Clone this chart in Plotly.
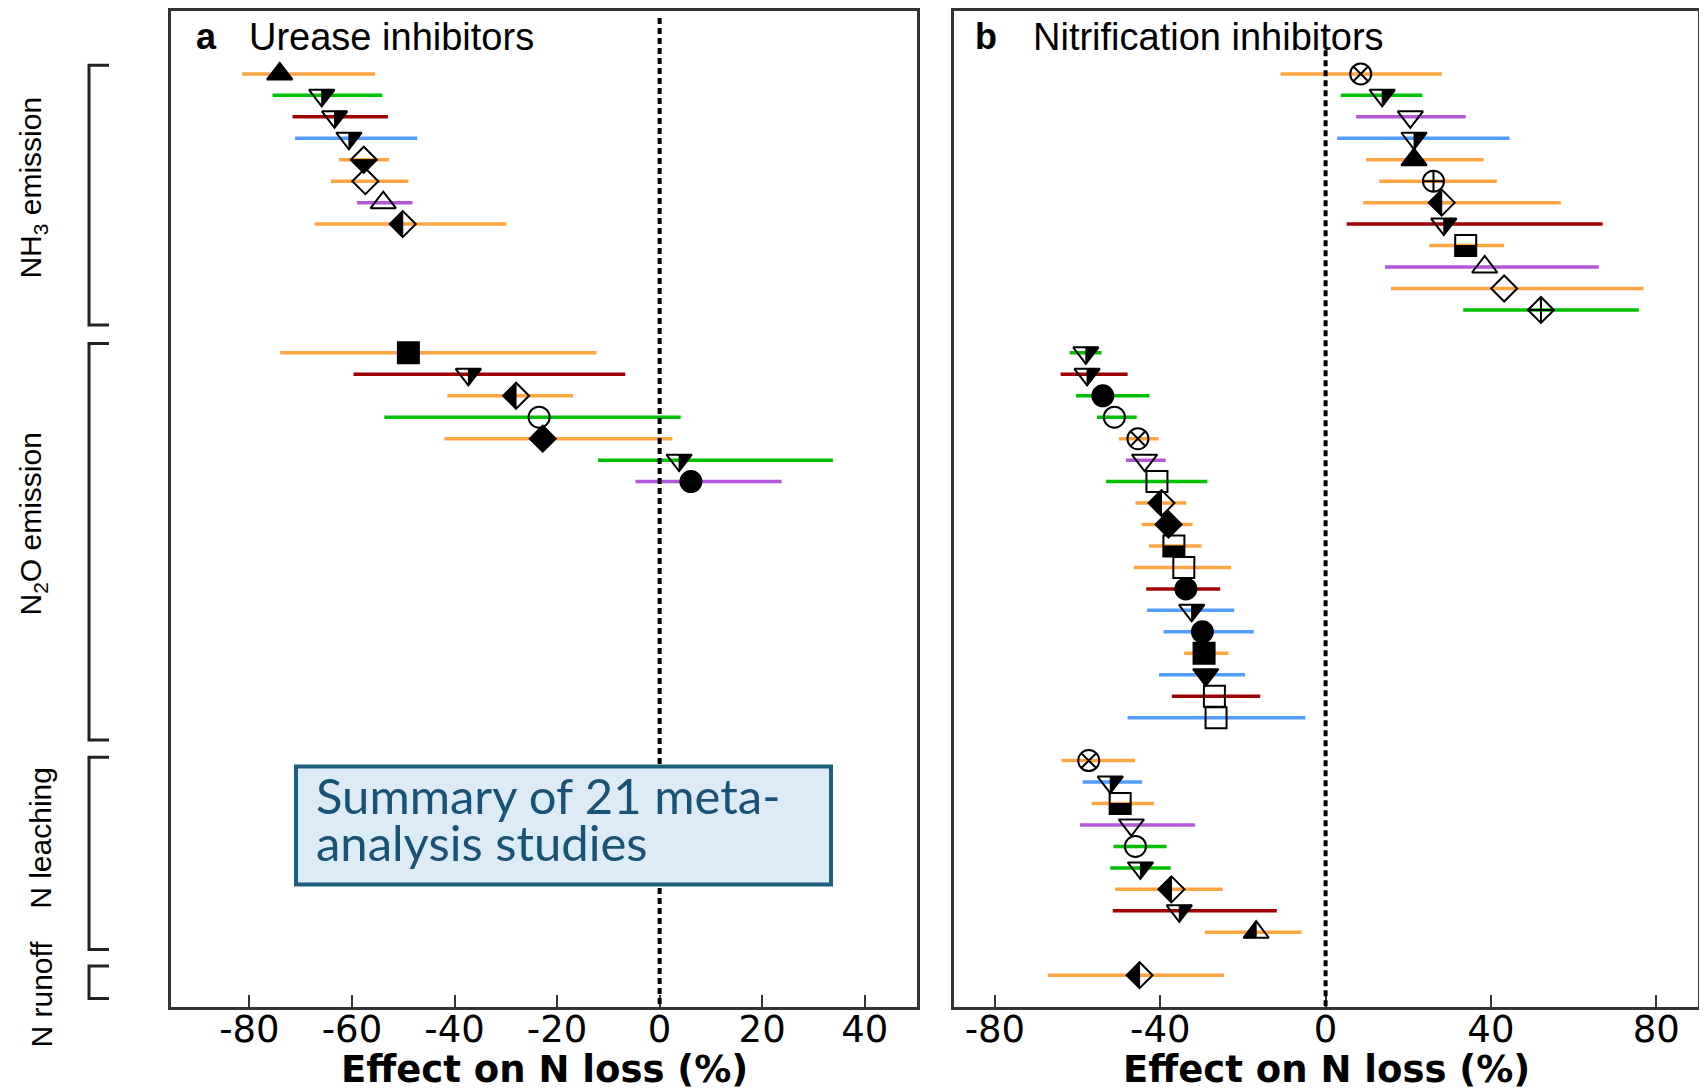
import math
import plotly.graph_objects as go

# ---------------- data ----------------
# Panel a: urease inhibitors (row index from top)
a_rows = [0, 1, 2, 3, 4, 5, 6, 7, 13, 14, 15, 16, 17, 18, 19]
a_mean = [-74.1, -65.9, -63.4, -60.6, -57.7, -57.4, -53.9, -50.1, -49.0, -37.3, -28.0, -23.5, -22.8, 3.8, 6.1]
a_lo = [-81.4, -75.5, -71.6, -71.1, -62.5, -64.1, -59.0, -67.3, -74.0, -59.7, -41.4, -53.7, -42.0, -12.0, -4.7]
a_hi = [-55.5, -54.1, -53.0, -47.3, -52.8, -49.0, -48.2, -29.9, -12.3, -6.7, -16.9, 4.1, 2.5, 33.8, 23.8]
a_color = ['orange', 'green', 'darkred', 'blue', 'orange', 'orange', 'purple', 'orange',
           'orange', 'darkred', 'orange', 'green', 'orange', 'green', 'purple']
a_marker = ['tri_up_filled', 'tri_down_half', 'tri_down_half', 'tri_down_half', 'diamond_bottom_half',
            'diamond_open', 'tri_up_open', 'diamond_left_half',
            'square_filled', 'tri_down_half', 'diamond_left_half', 'circle_open', 'diamond_filled',
            'tri_down_half', 'circle_filled']

# Panel b: nitrification inhibitors
b_rows = list(range(0, 12)) + list(range(13, 31)) + list(range(32, 41)) + [42]
b_mean = [8.5, 13.7, 20.5, 21.4, 21.4, 26.1, 28.1, 28.6, 33.9, 38.5, 43.2, 52.1,
          -58.0, -57.7, -53.9, -51.1, -45.4, -43.8, -40.8, -39.7, -38.0, -36.7, -34.3, -33.8,
          -32.4, -29.8, -29.4, -29.0, -26.9, -26.5,
          -57.3, -52.1, -49.7, -47.0, -46.0, -44.8, -37.3, -35.4, -16.8,
          -45.0]
b_lo = [-10.9, 3.7, 7.4, 2.8, 9.8, 13.0, 9.1, 5.1, 25.1, 14.4, 15.8, 33.3,
        -61.9, -64.1, -60.4, -55.3, -50.0, -48.3, -53.1, -46.0, -44.5, -42.7, -46.4, -43.4,
        -43.2, -39.2, -34.2, -40.3, -37.2, -47.9,
        -63.9, -58.8, -56.6, -59.4, -51.3, -52.1, -50.9, -51.5, -29.2,
        -67.2]
b_hi = [28.1, 23.4, 33.9, 44.5, 38.2, 41.4, 56.9, 67.0, 43.2, 66.1, 76.9, 75.8,
        -54.2, -47.9, -42.6, -45.7, -40.4, -38.7, -28.6, -33.7, -32.2, -30.0, -22.9, -25.5,
        -22.1, -17.4, -23.5, -19.5, -15.8, -4.9,
        -46.1, -44.4, -41.5, -31.6, -38.5, -37.5, -24.9, -11.8, -5.8,
        -24.6]
b_color = ['orange', 'green', 'purple', 'blue', 'orange', 'orange', 'orange', 'darkred', 'orange', 'purple', 'orange', 'green',
           'green', 'darkred', 'green', 'green', 'orange', 'purple', 'green', 'orange', 'orange', 'orange', 'orange', 'darkred',
           'blue', 'blue', 'orange', 'blue', 'darkred', 'blue',
           'orange', 'blue', 'orange', 'purple', 'green', 'green', 'orange', 'darkred', 'orange',
           'orange']
b_marker = ['circle_x', 'tri_down_half', 'tri_down_open', 'tri_down_half', 'tri_up_filled', 'circle_plus',
            'diamond_left_half', 'tri_down_half', 'square_bottom_half', 'tri_up_open', 'diamond_open', 'diamond_plus',
            'tri_down_half', 'tri_down_half', 'circle_filled', 'circle_open', 'circle_x', 'tri_down_open',
            'square_open', 'diamond_left_half', 'diamond_filled', 'square_bottom_half', 'square_open', 'circle_filled',
            'tri_down_half', 'circle_filled', 'square_filled', 'tri_down_filled', 'square_open', 'square_open',
            'circle_x', 'tri_down_half', 'square_bottom_half', 'tri_down_open', 'circle_open', 'tri_down_half',
            'diamond_left_half', 'tri_down_half', 'tri_up_left_half',
            'diamond_left_half']

a_ticks = [-80, -60, -40, -20, 0, 20, 40]
b_ticks = [-80, -40, 0, 40, 80]

groups = ['NH<sub>3</sub> emission', 'N<sub>2</sub>O emission', 'N leaching', 'N runoff']
group_span = [(-0.4, 11.7), (12.56, 31.04), (31.85, 40.8), (41.57, 43.09)]
group_label_row = [5.3, 21.0, 35.6, 42.9]

# ---------------- styling ----------------
COLORS = {'orange': '#FFA53F', 'green': '#00C000', 'darkred': '#A00000',
          'blue': '#4F9DFF', 'purple': '#B455DA'}
TRI, DIA, SQ, CIR = 22, 20, 21, 21
SYM = {
    'tri_up_filled': ('triangle-up', TRI), 'tri_up_open': ('triangle-up-open', TRI),
    'tri_up_left_half': ('triangle-up-open', TRI),
    'tri_down_half': ('triangle-down-open', TRI), 'tri_down_open': ('triangle-down-open', TRI),
    'tri_down_filled': ('triangle-down', TRI),
    'diamond_open': ('diamond-open', DIA), 'diamond_filled': ('diamond', DIA),
    'diamond_left_half': ('diamond-open', DIA), 'diamond_bottom_half': ('diamond-open', DIA),
    'diamond_plus': ('diamond-cross-open', DIA),
    'square_filled': ('square', SQ), 'square_open': ('square-open', SQ),
    'square_bottom_half': ('square-open', SQ),
    'circle_filled': ('circle', CIR), 'circle_open': ('circle-open', CIR),
    'circle_x': ('circle-x-open', CIR), 'circle_plus': ('circle-cross-open', CIR),
}

# page body has an 8px margin: figure is laid out in page pixels minus that offset
OFF = 8
W, H = 1707 - OFF, 1092 - OFF
ARIAL = "Liberation Sans, Arial, sans-serif"
DEJAVU = "DejaVu Sans, Verdana, sans-serif"


def px(x):
    return (x - OFF) / W


def py(y):
    return 1 - (y - OFF) / H


def half_path(kind, size):
    r = size / 2.0
    rt = r * 2 / math.sqrt(3)
    rd = r * 1.3
    if kind == 'tri_down_half':
        pts = [(0, r / 2), (rt, r / 2), (0, -r)]
    elif kind == 'tri_up_left_half':
        pts = [(-rt, -r / 2), (0, -r / 2), (0, r)]
    elif kind == 'diamond_left_half':
        pts = [(-rd, 0), (0, rd), (0, -rd)]
    elif kind == 'diamond_bottom_half':
        pts = [(-rd, 0), (rd, 0), (0, -rd)]
    elif kind == 'square_bottom_half':
        pts = [(-r, 0), (r, 0), (r, -r), (-r, -r)]
    else:
        return None
    return 'M ' + ' L '.join(f'{x:.2f},{y:.2f}' for x, y in pts) + ' Z'


fig = go.Figure()
shapes = []


def add_panel(rows, mean, lo, hi, colors, markers, xref, yref):
    # CI bars grouped by colour
    for cname in COLORS:
        xs, ys = [], []
        for r, l, h, c in zip(rows, lo, hi, colors):
            if c == cname:
                xs += [l, h, None]
                ys += [r, r, None]
        if xs:
            fig.add_trace(go.Scatter(x=xs, y=ys, mode='lines', xaxis=xref, yaxis=yref,
                                     line=dict(color=COLORS[cname], width=3.5),
                                     hoverinfo='skip', showlegend=False))
    fig.add_trace(go.Scatter(
        x=mean, y=rows, mode='markers', xaxis=xref, yaxis=yref, showlegend=False,
        marker=dict(symbol=[SYM[m][0] for m in markers], size=[SYM[m][1] for m in markers],
                    color='black', opacity=1, line=dict(color='black', width=2))))
    for r, m, mk in zip(rows, mean, markers):
        p = half_path(mk, SYM[mk][1])
        if p:
            shapes.append(dict(type='path', xref=xref, yref=yref, xsizemode='pixel', ysizemode='pixel',
                               xanchor=m, yanchor=r, path=p, fillcolor='black',
                               line=dict(color='black', width=1), layer='above'))


add_panel(a_rows, a_mean, a_lo, a_hi, a_color, a_marker, 'x', 'y')
add_panel(b_rows, b_mean, b_lo, b_hi, b_color, b_marker, 'x2', 'y2')

YR = [43.49, -2.93]
# zero reference lines
shapes.append(dict(type='line', xref='x', yref='y', x0=0, x1=0, y0=-2.6, y1=YR[0],
                   line=dict(color='black', width=4, dash='6px,4px')))
shapes.append(dict(type='line', xref='x2', yref='y2', x0=0, x1=0, y0=-1.1, y1=YR[0],
                   line=dict(color='black', width=4, dash='6px,4px')))

# group brackets on the left
bx0, bx1 = px(89), px(109)
for (y0, y1) in group_span:
    shapes.append(dict(type='path', xref='paper', yref='y',
                       path=f'M {bx1},{y0} L {bx0},{y0} L {bx0},{y1} L {bx1},{y1}',
                       line=dict(color='#222222', width=3)))

# summary box
shapes.append(dict(type='rect', xref='paper', yref='paper', x0=px(296), x1=px(831),
                   y0=py(884), y1=py(766), fillcolor='#DDEBF7',
                   line=dict(color='#1B5E7E', width=4), layer='above'))

annotations = []
label_x = [33, 33, 41, 41]
for g, ry, lx in zip(groups, group_label_row, label_x):
    annotations.append(dict(text=g, xref='paper', yref='y', x=px(lx), y=ry, showarrow=False,
                            textangle=-90, font=dict(family=ARIAL, size=30, color='black'),
                            xanchor='center', yanchor='middle'))

# panel titles
for letter, title, lx, tx in [('a', 'Urease inhibitors', 194, 247), ('b', 'Nitrification inhibitors', 973, 1031)]:
    annotations.append(dict(text=f'<b>{letter}</b>', xref='paper', yref='paper', x=px(lx), y=py(35),
                            showarrow=False, xanchor='left', yanchor='middle',
                            font=dict(family=ARIAL, size=36, color='black')))
    annotations.append(dict(text=title, xref='paper', yref='paper', x=px(tx), y=py(35),
                            showarrow=False, xanchor='left', yanchor='middle',
                            font=dict(family=ARIAL, size=38, color='black')))

# axis titles
for xc in [(171 + 917) / 2, (954 + 1698) / 2]:
    annotations.append(dict(text='<b>Effect on N loss (%)</b>', xref='paper', yref='paper',
                            x=px(xc), y=py(1069), xanchor='center', yanchor='middle', showarrow=False,
                            font=dict(family=DEJAVU, size=37, color='black')))

# summary text
for line, yc in [('Summary of 21 meta-', 794), ('analysis studies', 842)]:
    annotations.append(dict(text=line, xref='paper', yref='paper', x=px(314), y=py(yc),
                            xanchor='left', yanchor='middle', showarrow=False,
                            font=dict(family='Lato, Carlito, sans-serif', size=49, color='#1A5276')))

ydom = [py(1007), py(9)]
axis_common = dict(showline=True, mirror=True, linecolor='#333333', linewidth=2.5,
                   showgrid=False, zeroline=False)
xcommon = dict(axis_common, ticks='inside', ticklen=12, tickwidth=1.5, tickcolor='#333333',
               ticklabelstandoff=-12,
               tickfont=dict(family=DEJAVU, size=37, color='black'))
ycommon = dict(axis_common, range=YR, showticklabels=False, ticks='')

fig.update_layout(
    width=W, height=H, margin=dict(l=0, r=0, t=0, b=0),
    paper_bgcolor='white', plot_bgcolor='white', showlegend=False,
    xaxis=dict(xcommon, domain=[px(171), px(917)], range=[-95.3, 50.2], anchor='y',
               tickvals=a_ticks, ticktext=[str(t) for t in a_ticks]),
    yaxis=dict(ycommon, domain=ydom, anchor='x'),
    xaxis2=dict(xcommon, domain=[px(954), px(1698)], range=[-89.9, 90.1], anchor='y2',
                tickvals=b_ticks, ticktext=[str(t) for t in b_ticks]),
    yaxis2=dict(ycommon, domain=ydom, anchor='x2'),
    shapes=shapes, annotations=annotations,
)

fig.write_html('out.html')
